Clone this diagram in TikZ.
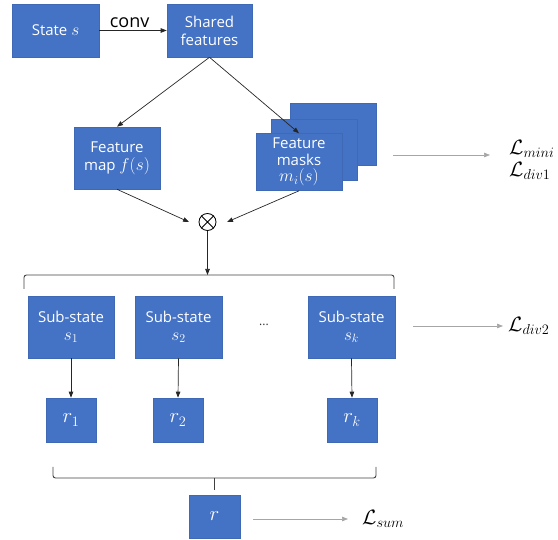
\documentclass[tikz,border=0pt]{standalone}
\usepackage[no-math]{fontspec}
\setmainfont{Open Sans}
\usetikzlibrary{arrows.meta}
\definecolor{boxblue}{HTML}{4472C4}
\definecolor{boxedge}{HTML}{3F69B5}
\definecolor{lossgray}{HTML}{A6A6A6}
\definecolor{bracegray}{HTML}{404040}
\newcommand{\bxm}[1]{{\fontsize{18}{18}\selectfont$#1$}}
\begin{document}
\begin{tikzpicture}[x=1pt,y=-1pt,
  box/.style={fill=boxblue,draw=boxedge,line width=0.6pt,text=white,align=center,
    font=\fontsize{15}{18}\selectfont,inner sep=0pt},
  rbox/.style={box,minimum width=50pt,minimum height=44pt,font=\fontsize{21}{22}\selectfont},
  subbox/.style={box,minimum width=86pt,minimum height=62pt},
  arr/.style={-{Triangle[length=6pt,width=4.5pt]},line width=0.7pt,black!85},
  garr/.style={-{Triangle[length=6pt,width=4.5pt]},line width=0.7pt,lossgray},
  brace/.style={line width=0.9pt,bracegray,rounded corners=2.5pt},
  loss/.style={anchor=west,inner sep=0pt,align=left,font=\fontsize{20}{22}\selectfont}]
\useasboundingbox (0,0) rectangle (558,540);

% top row
\node[box,minimum width=87pt,minimum height=53pt] (state) at (55.5,30.5) {State \bxm{s}};
\node[box,minimum width=85pt,minimum height=53pt] (shared) at (209.5,30.5) {Shared\\features};
\draw[arr] (state) -- node[pos=0.45,above=1pt,inner sep=1pt,text=black,font=\fontsize{18}{20}\selectfont]{conv} (shared);

% feature map and masks
\node[box,minimum width=86pt,minimum height=62pt] (fmap) at (117,158) {Feature\\map \bxm{f(s)}};
\node[box,minimum width=86pt,minimum height=62pt] (mback) at (333,134) {};
\node[box,minimum width=86pt,minimum height=61pt] (mmid) at (314,149.5) {};
\node[box,minimum width=86pt,minimum height=57pt] (masks) at (299,162)
  {\raisebox{-3pt}{\parbox{80pt}{\centering\baselineskip=16.5pt Feature\\masks\\\bxm{m_i(s)}}}};

\draw[arr] (shared.south) -- (fmap.north);
\draw[arr] (shared.south) -- (masks.north);

% otimes
\node[circle,draw,line width=0.8pt,minimum size=17pt,inner sep=0pt] (ot) at (207.5,222) {};
\draw[line width=0.8pt] (ot.north west) -- (ot.south east) (ot.north east) -- (ot.south west);
\coordinate (otL) at (189,222);
\coordinate (otR) at (227,222);
\draw[arr] (fmap.south) -- (otL);
\draw[arr] (masks.south) -- (otR);

% top brace
\coordinate (tb) at (207.5,275);
\draw[brace] (24,289) -- (24,275) -- (394,275) -- (394,289);
\draw[arr] (ot.south) -- (tb);

% loss 1
\node[loss] (l1) at (509,160) {$\mathcal{L}_{mini}$\\[0pt]$\mathcal{L}_{div1}$};
\coordinate (a1s) at (393,155);
\coordinate (a1e) at (490,155);
\draw[garr] (a1s) -- (a1e);

% sub-states
\node[subbox] (s1) at (71,327) {Sub-state\\\bxm{s_1}};
\node[subbox,minimum width=87pt] (s2) at (178.5,327) {Sub-state\\\bxm{s_2}};
\node[subbox,minimum width=87pt] (sk) at (351.5,327) {Sub-state\\\bxm{s_k}};
\node[text=black!80,font=\fontsize{12}{14}\selectfont] (dots) at (264,325) {...};

% loss 2
\node[loss] (l2) at (508,326) {$\mathcal{L}_{div2}$};
\draw[garr,shorten <=18pt,shorten >=5pt] (sk.east |- l2.west) -- (l2.west);

% rewards
\node[rbox] (r1) at (71,420) {$r_1$};
\node[rbox] (r2) at (178,420) {$r_2$};
\node[rbox] (rk) at (352,420) {$r_k$};
\draw[arr] (s1.south) -- (r1.north);
\draw[arr] (s2.south) -- (r2.north);
\draw[arr] (sk.south) -- (rk.north);

% bottom brace
\draw[brace] (53,467) -- (53,478) -- (376,478) -- (376,467);
\draw[line width=0.9pt,bracegray] (214.5,478) -- (214.5,490);

% total reward
\node[rbox,minimum width=51pt,minimum height=43pt] (r) at (214.5,516.5) {$r$};
\node[loss] (lsum) at (362,519) {$\mathcal{L}_{sum}$};
\draw[garr,shorten <=13pt,shorten >=14pt] (r.east |- lsum.west) -- (lsum.west);
\end{tikzpicture}
\end{document}
